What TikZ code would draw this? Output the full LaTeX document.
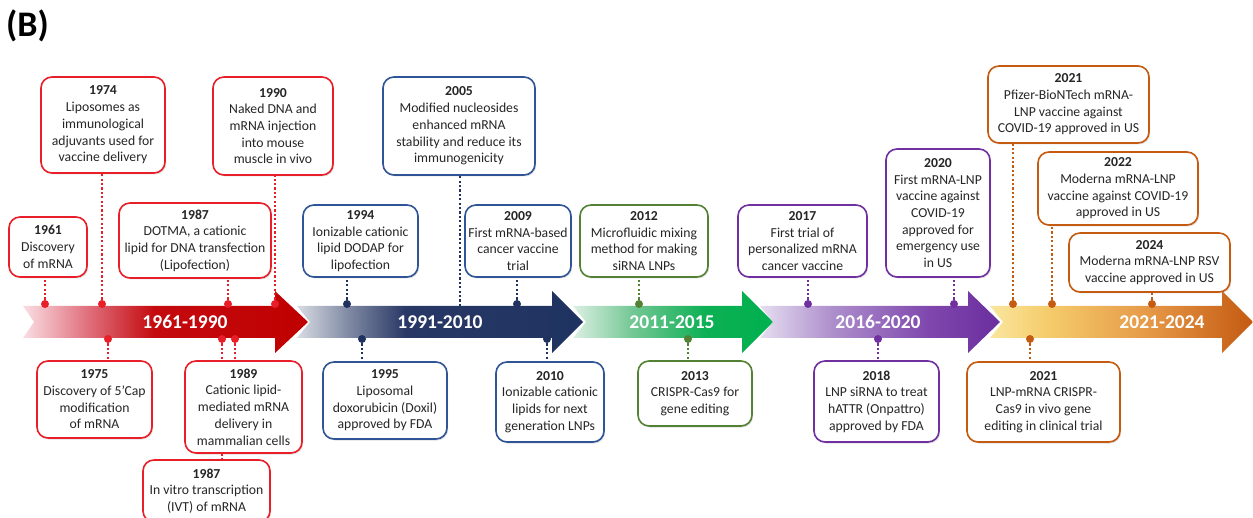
\documentclass[tikz,border=0pt]{standalone}
\usepackage{fontspec}
\setmainfont{Carlito}
\usetikzlibrary{shadows}
\definecolor{cRed}{RGB}{232,30,40}
\definecolor{cRedD}{RGB}{192,0,0}
\definecolor{cNavy}{RGB}{47,85,151}
\definecolor{cNavyD}{RGB}{31,50,96}
\definecolor{cGreen}{RGB}{84,130,53}
\definecolor{cPurple}{RGB}{112,48,160}
\definecolor{cOrange}{RGB}{197,90,17}
\pgfdeclarehorizontalshading{redsh}{100bp}{rgb(0bp)=(0.98,0.87,0.89); rgb(25bp)=(0.98,0.87,0.89); rgb(36bp)=(0.88,0.45,0.50); rgb(48bp)=(0.77,0.04,0.06); rgb(75bp)=(0.75,0,0); rgb(100bp)=(0.75,0,0)}
\pgfdeclarehorizontalshading{navysh}{100bp}{rgb(0bp)=(0.85,0.86,0.89); rgb(25bp)=(0.85,0.86,0.89); rgb(34bp)=(0.50,0.54,0.64); rgb(44bp)=(0.16,0.22,0.40); rgb(75bp)=(0.12,0.20,0.38); rgb(100bp)=(0.12,0.20,0.38)}
\pgfdeclarehorizontalshading{greensh}{100bp}{rgb(0bp)=(0.86,0.94,0.89); rgb(25bp)=(0.86,0.94,0.89); rgb(40bp)=(0.45,0.78,0.58); rgb(58bp)=(0.05,0.69,0.33); rgb(75bp)=(0,0.69,0.31); rgb(100bp)=(0,0.69,0.31)}
\pgfdeclarehorizontalshading{purplesh}{100bp}{rgb(0bp)=(0.90,0.87,0.94); rgb(25bp)=(0.90,0.87,0.94); rgb(40bp)=(0.68,0.56,0.80); rgb(60bp)=(0.50,0.28,0.68); rgb(75bp)=(0.42,0.18,0.62); rgb(100bp)=(0.42,0.18,0.62)}
\pgfdeclarehorizontalshading{orangesh}{100bp}{rgb(0bp)=(0.98,0.90,0.62); rgb(25bp)=(0.98,0.90,0.62); rgb(36bp)=(0.96,0.80,0.42); rgb(55bp)=(0.90,0.60,0.28); rgb(75bp)=(0.77,0.35,0.07); rgb(100bp)=(0.77,0.35,0.07)}
\pgfdeclarelayer{bg}
\pgfsetlayers{bg,main}
\tikzset{
  evbox/.style={draw, line width=1.6pt, rounded corners=11pt, fill=white, align=center,
    inner sep=2pt, font=\fontsize{13.7}{16.7}\selectfont, text=black!85,
    drop shadow={opacity=0.25, shadow xshift=1.2pt, shadow yshift=-1.5pt}},
  redbox/.style={evbox, draw=cRed},
  navybox/.style={evbox, draw=cNavy},
  greenbox/.style={evbox, draw=cGreen},
  purplebox/.style={evbox, draw=cPurple},
  orangebox/.style={evbox, draw=cOrange},
  conn/.style={line width=2.2pt, dash pattern=on 2.2pt off 2.2pt},
  evdot/.style={circle, inner sep=0pt, minimum size=8pt},
  era/.style={text=white, font=\bfseries\fontsize{19.5}{22}\selectfont},
}
\newcommand\tlarrow[5]{%
  \path[shading=#1, shading angle=0] (#2,306) -- (#4,306) -- (#4,291) -- (#5,322) -- (#4,353) -- (#4,338) -- (#2,338) -- (#3,322) -- cycle;}
\begin{document}
\begin{tikzpicture}[x=1pt,y=-1pt]
\useasboundingbox (0,0) rectangle (1253,518);
\node[font=\bfseries\fontsize{36}{40}\selectfont, anchor=west, inner sep=0pt] (title) at (6,26) {(B)};

% boxes
\node[redbox, minimum width=78pt, minimum height=60pt] (b1961) at (48,247) {{\bfseries 1961}\\Discovery\\of mRNA};
\node[redbox, minimum width=124pt, minimum height=96pt] (b1974) at (103,125) {{\bfseries 1974}\\Liposomes as\\immunological\\adjuvants used for\\vaccine delivery};
\node[redbox, minimum width=152pt, minimum height=75pt] (b1987a) at (195,240.5) {{\bfseries 1987}\\DOTMA, a cationic\\lipid for DNA transfection\\(Lipofection)};
\node[redbox, minimum width=120pt, minimum height=98pt] (b1990) at (273,126) {{\bfseries 1990}\\Naked DNA and\\mRNA injection\\into mouse\\muscle in vivo};
\node[redbox, minimum width=115pt, minimum height=77pt] (b1975) at (94.5,399.5) {{\bfseries 1975}\\Discovery of 5’Cap\\modification\\of mRNA};
\node[redbox, minimum width=127pt, minimum height=62pt] (b1987b) at (206.5,491) {{\bfseries 1987}\\In vitro transcription\\(IVT) of mRNA};
\node[redbox, minimum width=117pt, minimum height=92pt] (b1989) at (243.5,407) {{\bfseries 1989}\\Cationic lipid-\\mediated mRNA\\delivery in\\mammalian cells};

\node[navybox, minimum width=115pt, minimum height=72pt] (b1994) at (360.5,241) {{\bfseries 1994}\\Ionizable cationic\\lipid DODAP for\\lipofection};
\node[navybox, minimum width=152pt, minimum height=98pt] (b2005) at (459,126) {{\bfseries 2005}\\Modified nucleosides\\enhanced mRNA\\stability and reduce its\\immunogenicity};
\node[navybox, minimum width=106pt, minimum height=72pt] (b2009) at (518,241) {{\bfseries 2009}\\First mRNA-based\\cancer vaccine\\trial};
\node[navybox, minimum width=124pt, minimum height=77pt] (b1995) at (385,400.5) {{\bfseries 1995}\\Liposomal\\doxorubicin (Doxil)\\approved by FDA};
\node[navybox, minimum width=108pt, minimum height=80pt] (b2010) at (550,402) {{\bfseries 2010}\\Ionizable cationic\\lipids for next\\generation LNPs};

\node[greenbox, minimum width=128pt, minimum height=72pt] (b2012) at (644,241) {{\bfseries 2012}\\Microfluidic mixing\\method for making\\siRNA LNPs};
\node[greenbox, minimum width=114pt, minimum height=65pt] (b2013) at (695,393.5) {{\bfseries 2013}\\CRISPR-Cas9 for\\gene editing};

\node[purplebox, minimum width=129pt, minimum height=72pt] (b2017) at (802.5,241) {{\bfseries 2017}\\First trial of\\personalized mRNA\\cancer vaccine};
\node[purplebox, minimum width=104pt, minimum height=128pt] (b2020) at (938,213) {{\bfseries 2020}\\First mRNA-LNP\\vaccine against\\COVID-19\\approved for\\emergency use\\in US};
\node[purplebox, minimum width=125pt, minimum height=81pt] (b2018) at (876.5,401.5) {{\bfseries 2018}\\LNP siRNA to treat\\hATTR (Onpattro)\\approved by FDA};

\node[orangebox, minimum width=161pt, minimum height=77pt] (b2021a) at (1068.5,104.5) {{\bfseries 2021}\\Pfizer-BioNTech mRNA-\\LNP vaccine against\\COVID-19 approved in US};
\node[orangebox, minimum width=160pt, minimum height=73pt] (b2022) at (1118,188.5) {{\bfseries 2022}\\Moderna mRNA-LNP\\vaccine against COVID-19\\approved in US};
\node[orangebox, minimum width=161pt, minimum height=59pt] (b2024) at (1149.5,262.5) {{\bfseries 2024}\\Moderna mRNA-LNP RSV\\vaccine approved in US};
\node[orangebox, minimum width=153pt, minimum height=80pt] (b2021b) at (1043.5,402) {{\bfseries 2021}\\LNP-mRNA CRISPR-\\Cas9 in vivo gene\\editing in clinical trial};

% dots
\node[evdot, fill=cRed] (d1961) at (45,304) {};
\node[evdot, fill=cRed] (d1974) at (102,304) {};
\node[evdot, fill=cRed] (d1987a) at (228,304) {};
\node[evdot, fill=cRed] (d1990) at (275,304) {};
\node[evdot, fill=cRed] (d1975) at (108,339) {};
\node[evdot, fill=cRed] (d1987b) at (222,339) {};
\node[evdot, fill=cRed] (d1989) at (235,339) {};
\node[evdot, fill=cNavyD] (d1994) at (347,304) {};
\coordinate (d2005) at (460,306);
\node[evdot, fill=cNavyD] (d2009) at (517,304) {};
\node[evdot, fill=cNavyD] (d1995) at (362,339) {};
\node[evdot, fill=cNavyD] (d2010) at (547,339) {};
\node[evdot, fill=cGreen] (d2012) at (639,304) {};
\node[evdot, fill=cGreen] (d2013) at (688,339) {};
\node[evdot, fill=cPurple] (d2017) at (808,304) {};
\node[evdot, fill=cPurple] (d2020) at (954,304) {};
\node[evdot, fill=cPurple] (d2018) at (878,339) {};
\node[evdot, fill=cOrange] (d2021a) at (1013,304) {};
\node[evdot, fill=cOrange] (d2022) at (1052,304) {};
\node[evdot, fill=cOrange] (d2024) at (1152,304) {};
\node[evdot, fill=cOrange] (d2021b) at (1030,339) {};

\begin{pgfonlayer}{bg}
\tlarrow{redsh}{23}{34}{275}{308}
\tlarrow{navysh}{297}{310}{552}{583}
\tlarrow{greensh}{573}{586}{742}{773}
\tlarrow{purplesh}{760}{773}{968}{1000}
\tlarrow{orangesh}{990}{1003}{1222}{1253}

\draw[conn, cRed] (d1961.center) -- (d1961 |- b1961.south);
\draw[conn, cRed] (d1974.center) -- (d1974 |- b1974.south);
\draw[conn, cRed] (d1987a.center) -- (d1987a |- b1987a.south);
\draw[conn, cRed] (d1990.center) -- (d1990 |- b1990.south);
\draw[conn, cRed] (d1975.center) -- (d1975 |- b1975.north);
\draw[conn, cRed] (d1987b.center) -- (d1987b |- b1987b.north);
\draw[conn, cRed] (d1989.center) -- (d1989 |- b1989.north);
\draw[conn, cNavyD] (d1994.center) -- (d1994 |- b1994.south);
\draw[conn, cNavyD] (d2005) -- (d2005 |- b2005.south);
\draw[conn, cNavyD] (d2009.center) -- (d2009 |- b2009.south);
\draw[conn, cNavyD] (d1995.center) -- (d1995 |- b1995.north);
\draw[conn, cNavyD] (d2010.center) -- (d2010 |- b2010.north);
\draw[conn, cGreen] (d2012.center) -- (d2012 |- b2012.south);
\draw[conn, cGreen] (d2013.center) -- (d2013 |- b2013.north);
\draw[conn, cPurple] (d2017.center) -- (d2017 |- b2017.south);
\draw[conn, cPurple] (d2020.center) -- (d2020 |- b2020.south);
\draw[conn, cPurple] (d2018.center) -- (d2018 |- b2018.north);
\draw[conn, cOrange] (d2021a.center) -- (d2021a |- b2021a.south);
\draw[conn, cOrange] (d2022.center) -- (d2022 |- b2022.south);
\draw[conn, cOrange] (d2024.center) -- (d2024 |- b2024.south);
\draw[conn, cOrange] (d2021b.center) -- (d2021b |- b2021b.north);
\end{pgfonlayer}

% era labels
\node[era] (e1) at (185,322) {1961-1990};
\node[era] (e2) at (440,322) {1991-2010};
\node[era] (e3) at (672,322) {2011-2015};
\node[era] (e4) at (878,322) {2016-2020};
\node[era] (e5) at (1162,322) {2021-2024};
\end{tikzpicture}
\end{document}
